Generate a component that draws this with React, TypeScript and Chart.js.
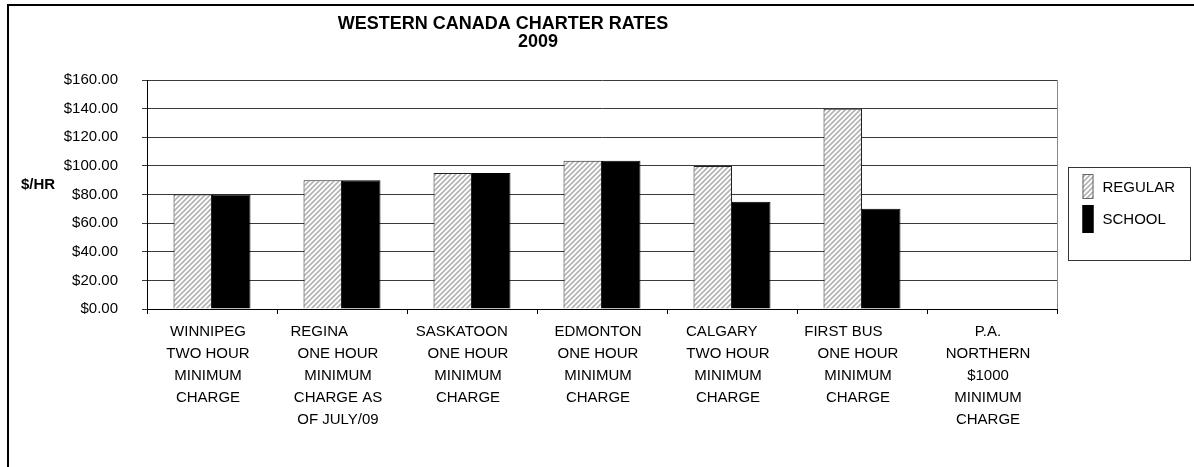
import React, { useEffect, useRef } from 'react';
import { Chart, registerables } from 'chart.js';

Chart.register(...registerables);

// ---- data ----
const categories: string[][] = [
  ['WINNIPEG', 'TWO HOUR', 'MINIMUM', 'CHARGE'],
  ['REGINA         ', 'ONE HOUR', 'MINIMUM', 'CHARGE AS', 'OF JULY/09'],
  ['SASKATOON   ', 'ONE HOUR', 'MINIMUM', 'CHARGE'],
  ['EDMONTON', 'ONE HOUR', 'MINIMUM', 'CHARGE'],
  ['CALGARY   ', 'TWO HOUR', 'MINIMUM', 'CHARGE'],
  ['FIRST BUS       ', 'ONE HOUR', 'MINIMUM', 'CHARGE'],
  ['P.A.', 'NORTHERN', '$1000', 'MINIMUM', 'CHARGE'],
];
const regularRates: (number | null)[] = [80, 90, 95, 103.5, 100, 140, null];
const schoolRates: (number | null)[] = [80, 90, 95, 103.5, 75, 70, null];
const seriesNames: string[] = ['REGULAR', 'SCHOOL'];
const titleLines: string[] = ['WESTERN CANADA CHARTER RATES', '2009'];
const yAxisLabel = '$/HR';
const yMin = 0;
const yMax = 160;
const yStep = 20;

const FONT = '"Liberation Sans", Arial, Helvetica, sans-serif';

function makeStripes(): CanvasPattern | string {
  const s = 5;
  const c = document.createElement('canvas');
  c.width = s;
  c.height = s;
  const g = c.getContext('2d');
  if (!g) return '#ddd';
  g.fillStyle = '#ffffff';
  g.fillRect(0, 0, s, s);
  g.strokeStyle = '#b4b4b4';
  g.lineWidth = 1.7;
  g.beginPath();
  g.moveTo(0, s);
  g.lineTo(s, 0);
  g.moveTo(-1, 1);
  g.lineTo(1, -1);
  g.moveTo(s - 1, s + 1);
  g.lineTo(s + 1, s - 1);
  g.stroke();
  const p = g.createPattern(c, 'repeat');
  return p || '#ddd';
}

export default function App() {
  const ref = useRef<HTMLCanvasElement>(null);

  useEffect(() => {
    document.body.style.margin = '0';
    const canvas = ref.current;
    if (!canvas) return;
    const stripes = makeStripes();

    const decor = {
      id: 'decor',
      afterDraw(chart: any) {
        const ctx: CanvasRenderingContext2D = chart.ctx;
        const ca = chart.chartArea;
        ctx.save();
        // outer chart border
        ctx.strokeStyle = '#000';
        ctx.lineWidth = 2;
        ctx.beginPath();
        ctx.moveTo(8, chart.height + 2);
        ctx.lineTo(8, 5);
        ctx.lineTo(chart.width + 2, 5);
        ctx.stroke();
        // plot area right border
        ctx.strokeStyle = '#888';
        ctx.lineWidth = 1;
        ctx.beginPath();
        ctx.moveTo(Math.round(ca.right) + 0.5, ca.top);
        ctx.lineTo(Math.round(ca.right) + 0.5, ca.bottom);
        ctx.stroke();
        // title
        ctx.fillStyle = '#000';
        ctx.font = 'bold 18px ' + FONT;
        ctx.textAlign = 'center';
        ctx.textBaseline = 'middle';
        ctx.fillText(titleLines[0], 503, 24);
        ctx.fillText(titleLines[1], 538, 42);
        // y axis label
        ctx.font = 'bold 15px ' + FONT;
        ctx.textAlign = 'left';
        ctx.fillText(yAxisLabel, 21, 185);
        // legend
        const lx = Math.round(ca.right) + 11.5;
        const ly = 167.5;
        ctx.strokeStyle = '#333';
        ctx.lineWidth = 1;
        ctx.strokeRect(lx, ly, 122, 93);
        const ds = chart.data.datasets;
        const sw = [
          { y: 174, h: 25 },
          { y: 205, h: 28 },
        ];
        ds.forEach((d: any, i: number) => {
          ctx.fillStyle = d.backgroundColor;
          ctx.fillRect(lx + 14, sw[i].y, 11, sw[i].h);
          ctx.strokeStyle = i === 0 ? '#666' : '#000';
          ctx.strokeRect(lx + 14.5, sw[i].y + 0.5, 10, sw[i].h - 1);
          ctx.fillStyle = '#000';
          ctx.font = '15px ' + FONT;
          ctx.textAlign = 'left';
          ctx.textBaseline = 'middle';
          ctx.fillText(d.label, lx + 34, sw[i].y + sw[i].h / 2 + 1);
        });
        ctx.restore();
      },
    };

    const chart = new Chart(canvas, {
      type: 'bar',
      data: {
        labels: categories,
        datasets: [
          {
            label: seriesNames[0],
            data: regularRates,
            backgroundColor: stripes as any,
            borderColor: '#222',
            borderWidth: 1,
            barPercentage: 1,
            categoryPercentage: 0.592,
          },
          {
            label: seriesNames[1],
            data: schoolRates,
            backgroundColor: '#000',
            borderColor: '#000',
            borderWidth: 1,
            barPercentage: 1,
            categoryPercentage: 0.592,
          },
        ],
      },
      options: {
        responsive: false,
        animation: false,
        events: [],
        layout: { padding: { left: 0, top: 80, right: 137, bottom: 0 } },
        plugins: {
          legend: { display: false },
          title: { display: false },
          tooltip: { enabled: false },
        },
        scales: {
          x: {
            offset: true,
            afterFit(scale: any) {
              scale.height = 158;
            },
            grid: {
              display: true,
              offset: true,
              drawOnChartArea: false,
              drawTicks: true,
              tickLength: 5,
              color: '#000',
            },
            border: { display: true, color: '#000', width: 1 },
            ticks: {
              autoSkip: false,
              maxRotation: 0,
              minRotation: 0,
              padding: 7,
              labelOffset: -4,
              color: '#000',
              font: { family: FONT, size: 15, lineHeight: '22px' as any },
            },
          },
          y: {
            min: yMin,
            max: yMax,
            afterFit(scale: any) {
              scale.width = 147;
            },
            grid: {
              display: true,
              drawOnChartArea: true,
              drawTicks: true,
              tickLength: 5,
              color: '#3a3a3a',
            },
            border: { display: true, color: '#000', width: 1 },
            ticks: {
              stepSize: yStep,
              padding: 24,
              color: '#000',
              font: { family: FONT, size: 15 },
              callback: (v: any) => '$' + Number(v).toFixed(2),
            },
          },
        },
      },
      plugins: [decor],
    });

    return () => {
      chart.destroy();
    };
  }, []);

  return (
    <div style={{ width: 1194, height: 467, background: '#fff' }}>
      <canvas ref={ref} width={1194} height={467} style={{ display: 'block' }} />
    </div>
  );
}
